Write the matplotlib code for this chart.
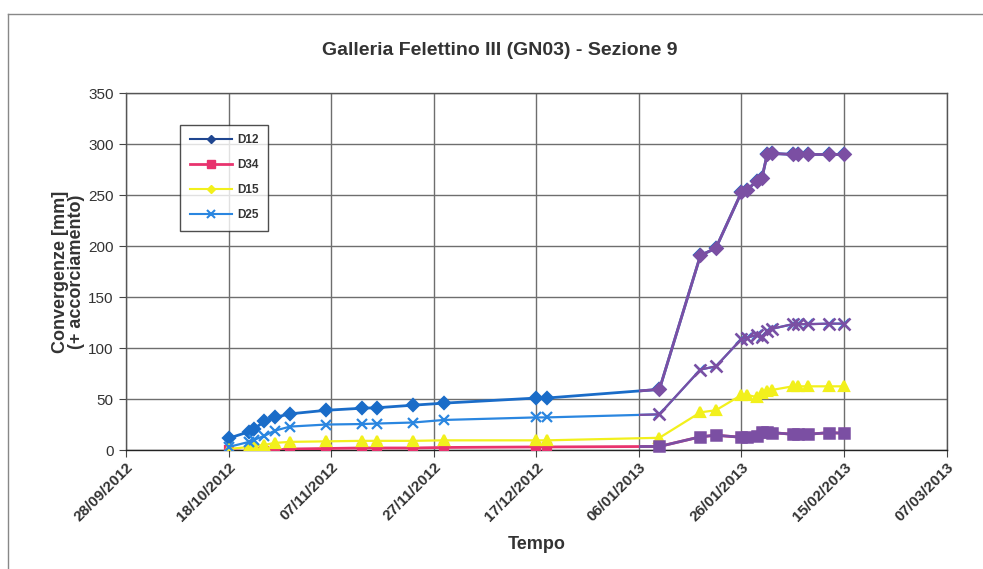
import matplotlib
matplotlib.use("Agg")
import matplotlib.pyplot as plt
import matplotlib.dates as mdates
from matplotlib.patches import Rectangle
from matplotlib.lines import Line2D
from datetime import datetime, timedelta

dates = ["18/10/2012", "22/10/2012", "23/10/2012", "25/10/2012", "27/10/2012", "30/10/2012",
         "06/11/2012", "13/11/2012", "16/11/2012", "23/11/2012", "29/11/2012", "17/12/2012",
         "19/12/2012", "10/01/2013", "18/01/2013", "21/01/2013", "26/01/2013", "27/01/2013",
         "29/01/2013", "30/01/2013", "31/01/2013", "01/02/2013", "05/02/2013", "06/02/2013",
         "08/02/2013", "12/02/2013", "15/02/2013"]
d12 = [11.5, 18, 21, 28, 32, 35.5, 39, 41, 41.5, 44, 46, 51, 51, 59.5, 191, 198, 253, 255,
       264, 267, 290, 291, 290, 290, 290, 290, 290]
d34 = [0, -2, -1.5, -1, 0, 1, 1.5, 2, 2, 2, 2.5, 3, 3, 3.5, 13, 14.5, 12.5, 13, 13.5, 17.5,
       18, 17, 15.5, 15.5, 15.5, 17, 16.5]
d15 = [1, 3, 4, 5, 7, 8, 8.5, 9, 9, 9, 9.5, 9.5, 9.5, 12, 37, 39, 54, 54, 52, 56, 58, 59,
       62.5, 62.5, 62.5, 62.5, 62.5]
d25 = [3, 8, 10, 14, 19, 23, 25, 25.5, 26, 27, 29.5, 32, 32, 35, 79, 82, 109, 110, 113, 111,
       117, 119, 123.5, 123.5, 123.5, 124, 124]
series_names = ["D12", "D34", "D15", "D25"]
title = "Galleria Felettino III (GN03) - Sezione 9"
xlabel = "Tempo"
ylabel = "Convergenze [mm]\n(+ accorciamento)"
purple_from = "06/01/2013"

x = [datetime.strptime(s, "%d/%m/%Y") for s in dates]
fam = ["Liberation Sans Narrow", "Liberation Sans", "DejaVu Sans"]
plt.rcParams["font.family"] = fam

fig = plt.figure(figsize=(9.83, 5.69), dpi=100)
ax = fig.add_axes([0.1282, 0.2091, 0.8348, 0.6269])

purple = "#7b4fa3"
styles = [
    (d12, "#1a6cc8", "D", 6, 2.0, purple),
    (d34, "#e8336e", "s", 6, 2.0, purple),
    (d15, "#f2f01c", "^", 6.5, 1.6, None),
    (d25, "#2a86e0", "x", 7.5, 1.6, purple),
]
x0 = mdates.date2num(datetime.strptime(purple_from, "%d/%m/%Y"))
for vals, col, mk, ms, lw, pc in styles:
    ax.plot(x, vals, color=col, marker=mk, ms=ms, lw=lw, mew=1.6, zorder=3)
    if pc:
        ln, = ax.plot(x, vals, color=pc, marker=mk, ms=ms + 0.5, lw=lw, mew=1.8, zorder=4)
        clip = Rectangle((x0, -1000), 1000, 3000, transform=ax.transData)
        ln.set_clip_path(clip)

start = datetime(2012, 9, 28)
ticks = [start + timedelta(days=20 * i) for i in range(9)]
ax.set_xlim(ticks[0], ticks[-1])
ax.set_xticks(ticks)
ax.xaxis.set_major_formatter(mdates.DateFormatter("%d/%m/%Y"))
ax.set_ylim(0, 350)
ax.set_yticks(range(0, 351, 50))
ax.grid(True, color="#6e6e6e", lw=1.0)
ax.set_axisbelow(True)
for sp in ax.spines.values():
    sp.set_color("#555555")
    sp.set_linewidth(1.0)
ax.spines["bottom"].set_color("#222222")
ax.tick_params(axis="x", labelsize=11, length=5, direction="out", color="#444444",
               labelcolor="#333333", pad=2)
ax.tick_params(axis="y", labelsize=11, length=5, direction="out", color="#444444",
               labelcolor="#333333", pad=4)
for lab in ax.get_xticklabels():
    lab.set_rotation(45)
    lab.set_ha("right")
    lab.set_rotation_mode("anchor")
    lab.set_fontweight("bold")

ax.set_xlabel(xlabel, fontsize=13, fontweight="bold", color="#333333", labelpad=9)
ax.set_ylabel(ylabel, fontsize=13, fontweight="bold", color="#333333", labelpad=2,
              linespacing=0.95)
fig.text(0.508, 0.912, title, ha="center", va="center", fontsize=14, fontweight="bold",
         color="#333333")

handles = [
    Line2D([], [], color="#1f4690", marker="D", ms=4, lw=1.5),
    Line2D([], [], color="#e8336e", marker="s", ms=6, lw=2),
    Line2D([], [], color="#f2f01c", marker="D", ms=4, lw=1.5),
    Line2D([], [], color="#2a86e0", marker="x", ms=6, lw=1.5, mew=1.5),
]
leg = ax.legend(handles, series_names, loc="upper left", bbox_to_anchor=(0.066, 0.912),
                fontsize=8.5, frameon=True, fancybox=False, handlelength=3.6,
                labelspacing=1.1, borderpad=0.8, handletextpad=0.4, borderaxespad=0)
leg.get_frame().set_edgecolor("#222222")
leg.get_frame().set_linewidth(1.0)
for t in leg.get_texts():
    t.set_fontweight("bold")
    t.set_color("#333333")

# scanned page frame
fig.add_artist(Line2D([0.008, 1.0], [0.975, 0.975], transform=fig.transFigure, color="#888888", lw=1))
fig.add_artist(Line2D([0.008, 0.008], [0.0, 0.975], transform=fig.transFigure, color="#888888", lw=1))

fig.savefig("out.png", dpi=100)
